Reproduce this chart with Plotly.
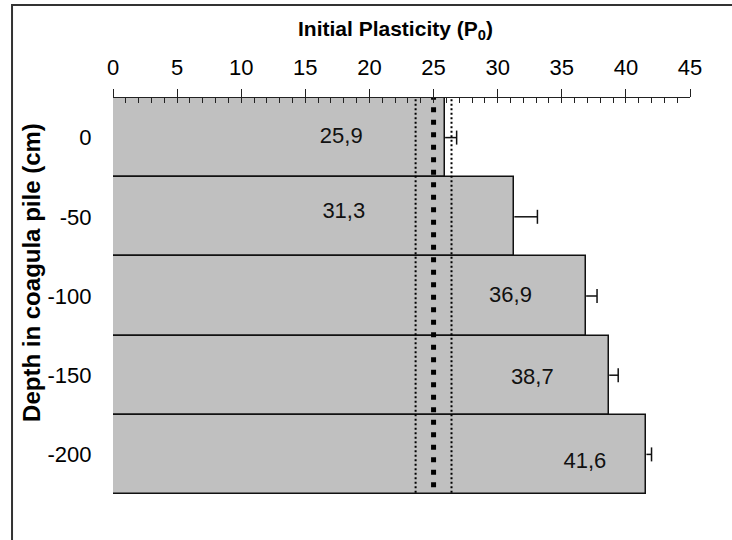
import plotly.graph_objects as go

# Depth of the sample layer in the coagula pile (cm)
depth = [0, -50, -100, -150, -200]
# Mean initial plasticity P0 per layer and its standard deviation
p0 = [25.9, 31.3, 36.9, 38.7, 41.6]
p0_err = [0.9, 1.8, 0.85, 0.7, 0.4]
# Reference value and its tolerance band
ref_value = 25.0
ref_low = 23.6
ref_high = 26.4

# Where each value label sits inside its bar
label_x = [17.8, 18.0, 31.0, 32.7, 36.8]
label_y = [0, -47, -100, -152, -205]

FONT = "Liberation Sans, Arial, sans-serif"

fig = go.Figure()

fig.add_trace(go.Bar(
    x=p0, y=depth, orientation="h", width=50,
    marker=dict(color="#c0c0c0", line=dict(color="#111111", width=1.5)),
    showlegend=False, hoverinfo="skip",
))

# one-sided (plus) error bars: stem from the bar end, cap at the tip
stem_x, stem_y = [], []
for v, e, d in zip(p0, p0_err, depth):
    stem_x += [v, v + e, None]
    stem_y += [d, d, None]
fig.add_trace(go.Scatter(
    x=stem_x, y=stem_y, mode="lines",
    line=dict(color="#111111", width=1.5),
    showlegend=False, hoverinfo="skip",
))
fig.add_trace(go.Scatter(
    x=[v + e for v, e in zip(p0, p0_err)], y=depth, mode="markers",
    marker=dict(symbol="line-ns", size=10,
                line=dict(color="#111111", width=1.5)),
    showlegend=False, hoverinfo="skip",
))

fig.add_trace(go.Scatter(
    x=label_x, y=label_y, mode="text",
    text=[f"{v:.1f}".replace(".", ",") for v in p0],
    textfont=dict(family=FONT, size=22, color="#111111"),
    showlegend=False, hoverinfo="skip",
))

# tolerance band (thin dotted) and reference value (heavy dotted)
for xv, w, dash in [(ref_low, 2, "2px,2.5px"), (ref_high, 2, "2px,2.5px"),
                    (ref_value, 5, "5px,7.5px")]:
    fig.add_trace(go.Scatter(
        x=[xv, xv], y=[27, -225], mode="lines",
        line=dict(color="black", width=w, dash=dash),
        showlegend=False, hoverinfo="skip",
    ))

# secondary axis carrying the minor ticks along the top axis
fig.add_trace(go.Scatter(x=[0], y=[0], xaxis="x2", mode="markers",
                         marker=dict(opacity=0), showlegend=False,
                         hoverinfo="skip"))

fig.update_layout(
    width=732, height=540,
    margin=dict(l=113, r=42, t=98, b=46),
    plot_bgcolor="white", paper_bgcolor="white",
    font=dict(family=FONT, size=22, color="black"),
    bargap=0,
    xaxis=dict(
        side="top", range=[0, 45], dtick=5, tick0=0,
        showgrid=False, zeroline=False,
        showline=True, linecolor="#222222", linewidth=1,
        ticks="outside", ticklen=8, tickwidth=1, tickcolor="#222222",
        ticklabelstandoff=5,
        tickfont=dict(family=FONT, size=22, color="black"),
    ),
    xaxis2=dict(
        overlaying="x", side="top", anchor="y", range=[0, 45], dtick=1,
        tick0=0, showgrid=False, zeroline=False, showticklabels=False,
        ticks="inside", ticklen=5, tickwidth=1, tickcolor="#222222",
    ),
    yaxis=dict(
        range=[-225, 25], tickvals=depth,
        ticktext=[str(d) for d in depth],
        showgrid=False, zeroline=False, showline=False,
        ticks="outside", ticklen=16, tickcolor="rgba(0,0,0,0)",
        tickfont=dict(family=FONT, size=22, color="black"),
    ),
    annotations=[
        dict(text="<b>Initial Plasticity (P<sub>0</sub>)</b>",
             xref="paper", yref="paper", x=0.489, y=1.172,
             xanchor="center", yanchor="middle", showarrow=False,
             font=dict(family=FONT, size=21, color="black")),
        dict(text="<b>Depth in coagula pile (cm)</b>", textangle=-90,
             xref="paper", yref="paper", x=-0.141, y=0.56,
             xanchor="center", yanchor="middle", showarrow=False,
             font=dict(family=FONT, size=24, color="black")),
    ],
    shapes=[
        dict(type="path", xref="paper", yref="paper",
             path="M -0.175,-0.3 L -0.175,1.2348 L 1.2,1.2348",
             line=dict(color="#333333", width=2)),
    ],
)

fig.write_html("out.html")
